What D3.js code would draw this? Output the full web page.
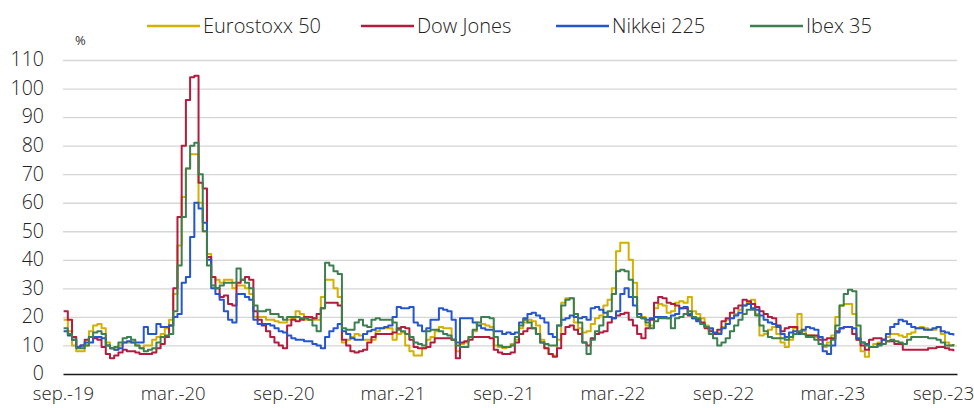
<!DOCTYPE html>
<html>
<head>
<meta charset="utf-8">
<script src="https://cdn.jsdelivr.net/npm/d3@7"></script>
<style>
  html, body { margin: 0; padding: 0; background: #fff; }
  svg { display: block; font-family: "Open Sans", "Noto Sans", sans-serif; }
</style>
</head>
<body>
<div id="chart"></div>
<script>
// weekly observations, first one on 2 Sep 2019
const firstWeek = new Date(2019, 8, 2);

const seriesNames = ["Eurostoxx 50", "Dow Jones", "Nikkei 225", "Ibex 35"];
const seriesColors = ["#d4b000", "#b51b3e", "#2457cf", "#3c7f50"];

const eurostoxx = [
  19, 15, 10, 8, 8, 10, 15, 17, 17.5, 16, 11, 9, 8.5, 10, 11, 11, 11, 10, 9, 10,
  10, 12, 13, 14, 16, 19, 28, 45, 62, 72, 77, 77, 60, 50, 42, 34, 33, 32, 33, 33, 30, 31,
  31, 30, 28, 20, 20, 20, 19, 19, 18.5, 18, 18, 19, 19.5, 22, 21, 19, 19, 19, 19, 27,
  33, 33, 30, 27, 11, 12, 13, 14, 13.5, 12, 12, 12, 15, 16, 16, 16, 12, 14, 14.5, 10, 8, 6.5, 6.5,
  9, 12, 13, 15, 16.5, 16, 16, 12, 8, 10.5, 11, 13, 15, 17, 17.5, 17, 16.5, 10, 9.5, 9,
  9.5, 10.5, 12, 16, 18, 19, 18.5, 17, 12, 9, 7, 6.5, 12, 25, 26.5, 26.5, 18, 16, 14.5, 15, 17.5, 19.5, 20.5,
  24, 26, 30, 43, 46, 46, 40, 32, 21, 20, 17, 17, 23, 24.5, 24, 21.5, 22, 25, 25.5, 25,
  27, 22, 21, 19.5, 17, 15.5, 14, 14.5, 16.5, 19, 19.5, 21, 22.5, 24, 25, 26, 21, 13.5, 14, 15.5, 16.5, 14, 11,
  9.5, 12, 16, 21, 15, 13.5, 13.5, 13, 13, 9.5, 11, 13.5, 20, 24, 24.5, 24.5, 21, 12, 8, 6,
  9.5, 10.5, 11, 12, 13, 14, 14, 13.5, 13, 14, 14.5, 16, 16.5, 16, 15.5, 15.5, 16.5, 14, 11, 10, 10.5
];

const dowJones = [
  22, 19, 13, 9.5, 10, 12, 13, 12.5, 12, 9.5, 7, 5.5, 6.5, 7.5, 8.5, 8, 8, 7.5, 7, 7,
  7, 7.5, 9, 10.5, 13, 17, 30, 55, 80, 96, 104, 104.5, 67, 65, 41, 34, 30, 27, 27.5, 24.5, 24, 32,
  33, 34, 33, 22, 19, 17, 15, 13, 11, 10, 9, 17, 19, 18.5, 19, 20, 20, 19.5, 21, 23,
  25, 25, 25, 24, 12, 10, 8, 7.5, 8, 8.5, 11, 13, 14, 14, 14, 14, 14.5, 16, 16.5, 16, 12, 9.5, 9,
  9, 9.5, 11, 12.5, 12.5, 12.5, 12.5, 12, 5.5, 11, 11.5, 12, 13, 13, 13, 13, 12.5, 8.5, 7.5, 7,
  7, 7.5, 11, 14, 15, 16, 16, 14, 11, 9, 7, 6, 9, 14, 16.5, 17, 15.5, 14, 11, 10, 12.5, 14, 14.5,
  15, 18, 19.5, 20.5, 21, 21.5, 19, 17, 14, 12.5, 16, 19, 25, 27, 26.5, 25, 24.5, 24, 23, 23,
  20.5, 19.5, 19, 18, 16, 15, 14, 15.5, 18.5, 19.5, 21.5, 23, 24, 26, 25.5, 24.5, 23.5, 22, 21, 20, 19.5, 17, 15,
  16, 16.5, 16.5, 14.5, 14, 13.5, 13.5, 13.5, 12, 12, 12.5, 12.5, 15, 16, 16.5, 16.5, 14, 12, 10, 8.5,
  12, 12.5, 12.5, 12, 11.5, 11.5, 10.5, 10.5, 8.5, 8.5, 8.5, 8.5, 8.5, 8.5, 9, 9, 9.5, 9.5, 9, 8.5, 8
];

const nikkei = [
  15, 13.5, 12, 9.5, 10, 11, 11, 13, 13, 12.5, 10, 9, 8.5, 9, 11, 11.5, 11, 11, 11, 16.5,
  14, 14, 17.5, 16.5, 16.5, 17, 20, 21, 32, 34, 48, 60, 58, 53, 40, 30, 28, 26, 22, 19, 18, 28,
  28, 27, 26, 19, 17.5, 17.5, 17.5, 17, 16, 15, 14.5, 13.5, 12.5, 12, 12, 11.5, 11.5, 10.5, 10, 9,
  13, 15, 16, 17.5, 15, 14, 12.5, 12, 12, 14, 15, 15.5, 16, 16, 16.5, 17, 20, 23.5, 23, 23, 23.5, 18, 17,
  15, 16, 19, 19, 23, 22.5, 22, 19, 11, 19.5, 19.5, 19.5, 18, 17, 16, 15.5, 15.5, 15, 15, 14,
  14.5, 14, 14.5, 18, 19.5, 21, 21.5, 20.5, 19.5, 18, 14, 13, 17, 19, 19.5, 20.5, 20, 19.5, 20, 19, 23, 23.5, 22.5,
  21.5, 20, 19.5, 22, 28, 30, 27, 24, 21, 19.5, 19, 19.5, 20, 20, 20, 19.5, 20.5, 21, 23, 23.5,
  21, 19.5, 18.5, 17.5, 16.5, 16, 14.5, 14, 16, 17.5, 19.5, 20.5, 21.5, 24, 24.5, 23, 22.5, 20.5, 19, 18, 17.5, 16.5, 14,
  13, 14.5, 15, 14, 15.5, 16.5, 16, 15.5, 13, 8, 7, 10, 14.5, 16, 16.5, 16.5, 16, 12.5, 11, 10.5,
  9.5, 9.5, 10.5, 12, 14, 16.5, 17.5, 19, 18.5, 17.5, 16.5, 16, 16, 15.5, 15.5, 16, 16.5, 15, 14.5, 14, 13.5
];

const ibex = [
  16, 14, 12, 9, 9, 10, 13, 14.5, 15, 14, 10, 9, 9.5, 11, 12.5, 13, 12, 10, 9, 8,
  8.5, 9, 11, 13, 13.5, 14, 22, 38, 55, 72, 80, 81, 70, 50, 38, 31, 30, 31, 32, 32, 32, 37,
  33, 32, 30, 24, 22, 22, 22.5, 21, 21, 20, 19, 20, 20, 20, 19.5, 19.5, 19, 17, 15, 23,
  39, 38, 36, 35, 16, 15.5, 15.5, 18, 19, 17, 16.5, 19, 19.5, 19, 19, 19, 18, 15.5, 15, 14, 13, 11, 10.5,
  10, 15, 15.5, 15.5, 15, 14, 13.5, 12, 10, 9.5, 9.5, 13, 15.5, 18, 20, 20, 19.5, 13, 10, 9.5,
  9.5, 10, 13, 17, 19, 18, 16, 14, 11, 10.5, 10, 10, 17, 24, 26, 26.5, 21, 18, 11, 7, 12, 15, 17,
  20, 22, 28, 36, 36.5, 36, 33, 27, 20, 19.5, 18, 16, 18.5, 19.5, 19.5, 19.5, 16, 19.5, 20, 21,
  22, 20, 19.5, 17.5, 16.5, 14, 12.5, 10, 11, 12.5, 15, 17, 19, 21, 22.5, 22.5, 20.5, 17, 15, 13, 12.5, 12.5, 12.5,
  12, 13, 14, 15, 14, 13, 13, 12, 10.5, 10, 10, 12, 17, 24, 28, 29.5, 29, 17, 11, 10,
  9.5, 9.5, 10, 10.5, 11.5, 12, 11.5, 11, 10.5, 12, 13, 13, 13, 13, 12.5, 12.5, 12, 11, 10, 10, 10.5
];

const xTickDates = [
  new Date(2019, 8, 1), new Date(2020, 2, 1), new Date(2020, 8, 1), new Date(2021, 2, 1),
  new Date(2021, 8, 1), new Date(2022, 2, 1), new Date(2022, 8, 1), new Date(2023, 2, 1),
  new Date(2023, 8, 1)
];
const xTickLabels = ["sep.-19", "mar.-20", "sep.-20", "mar.-21", "sep.-21", "mar.-22", "sep.-22", "mar.-23", "sep.-23"];
const yTicks = [0, 10, 20, 30, 40, 50, 60, 70, 80, 90, 100, 110];

const W = 974, H = 408;
const plot = { left: 63, right: 957, top: 60, bottom: 374 };
const legendX = [147, 361, 556, 750];

const dates = eurostoxx.map((_, i) => d3.timeDay.offset(firstWeek, 7 * i));
const allSeries = [eurostoxx, dowJones, nikkei, ibex];

const svg = d3.select("#chart").append("svg")
  .attr("width", W)
  .attr("height", H);

svg.append("rect").attr("width", W).attr("height", H).attr("fill", "#fff");

const x = d3.scaleTime()
  .domain([new Date(2019, 8, 1), new Date(2023, 8, 24)])
  .range([plot.left, plot.right]);

const y = d3.scaleLinear()
  .domain([0, 110])
  .range([plot.bottom, plot.top]);

// horizontal gridlines + y labels
const yAxis = svg.append("g")
  .attr("transform", `translate(${plot.left},0)`)
  .call(d3.axisLeft(y)
    .tickValues(yTicks)
    .tickSize(-(plot.right - plot.left))
    .tickPadding(19));
yAxis.select(".domain").remove();
yAxis.selectAll(".tick line")
  .attr("stroke", d => d === 0 ? "none" : "#d6d6d6")
  .attr("stroke-width", 1.3);
yAxis.selectAll(".tick text")
  .attr("fill", "#222")
  .attr("dy", "0.3em")
  .style("font-size", "19.5px")
  .style("font-weight", 300)
  .style("font-family", "'Open Sans', sans-serif");

// x axis
const xAxis = svg.append("g")
  .attr("transform", `translate(0,${plot.bottom})`)
  .call(d3.axisBottom(x)
    .tickValues(xTickDates)
    .tickFormat((d, i) => xTickLabels[i])
    .tickSize(0)
    .tickPadding(13));
xAxis.select(".domain")
  .attr("stroke", "#1a1a1a")
  .attr("stroke-width", 1.5);
xAxis.selectAll(".tick text")
  .attr("fill", "#222")
  .style("font-size", "18.5px")
  .style("font-weight", 300)
  .style("font-family", "'Open Sans', sans-serif");

// lines
const line = d3.line()
  .x((d, i) => x(dates[i]))
  .y(d => y(d))
  .curve(d3.curveStepAfter);

svg.append("g")
  .selectAll("path")
  .data(allSeries)
  .join("path")
  .attr("d", line)
  .attr("fill", "none")
  .attr("stroke", (d, i) => seriesColors[i])
  .attr("stroke-width", 2)
  .attr("stroke-linejoin", "round");

// unit
svg.append("text")
  .attr("x", 75)
  .attr("y", 45)
  .attr("fill", "#333")
  .style("font-size", "13px")
  .text("%");

// legend
const legend = svg.append("g");
seriesNames.forEach((name, i) => {
  const item = legend.append("g").attr("transform", `translate(${legendX[i]},26)`);
  item.append("line")
    .attr("x1", 0).attr("x2", 53)
    .attr("stroke", seriesColors[i])
    .attr("stroke-width", 2.5);
  item.append("text")
    .attr("x", 56)
    .attr("y", 7)
    .attr("fill", "#222")
    .style("font-size", "20px")
    .style("font-weight", 300)
    .text(name);
});
</script>
</body>
</html>
